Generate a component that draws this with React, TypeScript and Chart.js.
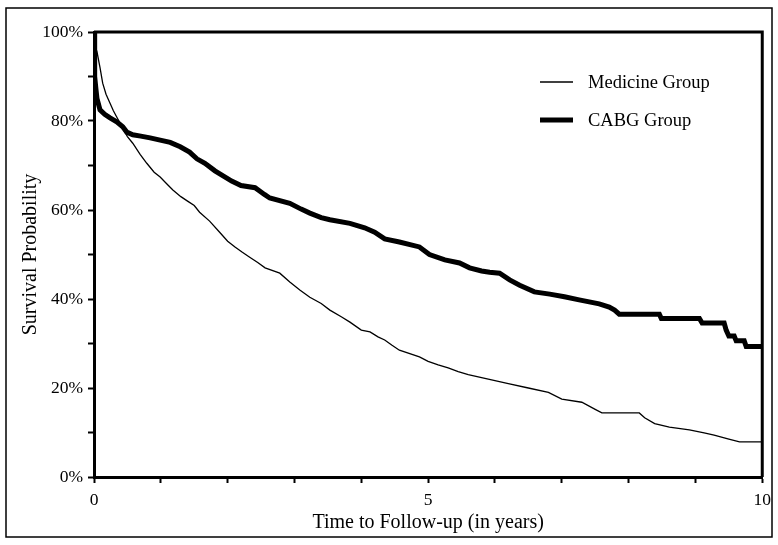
import React, { useEffect, useRef } from "react";
import { Chart, registerables } from "chart.js";

Chart.register(...registerables);

const seriesNames = ["Medicine Group", "CABG Group"];
const xTitle = "Time to Follow-up (in years)";
const yTitle = "Survival Probability";

const medicineT = [0, 0.015, 0.045, 0.09, 0.13, 0.18, 0.24, 0.29, 0.34, 0.43, 0.5, 0.58, 0.69, 0.79, 0.9, 0.99, 1.08, 1.18, 1.3, 1.4, 1.5, 1.58, 1.73, 1.88, 2.0, 2.11, 2.22, 2.33, 2.45, 2.56, 2.78, 2.93, 3.08, 3.23, 3.4, 3.53, 3.7, 3.83, 4.0, 4.13, 4.25, 4.35, 4.46, 4.57, 4.87, 5.0, 5.15, 5.3, 5.45, 5.6, 5.9, 6.2, 6.5, 6.8, 7.0, 7.3, 7.5, 7.6, 8.16, 8.24, 8.39, 8.61, 8.91, 9.13, 9.28, 9.5, 9.66, 10];
const medicineS = [100, 97, 95.5, 92, 88.5, 86, 84, 82.3, 80.9, 78.4, 76.5, 75, 72.5, 70.5, 68.5, 67.4, 66, 64.5, 63, 62, 61, 59.5, 57.5, 55, 53, 51.7, 50.5, 49.4, 48.2, 47, 45.8, 43.8, 42, 40.4, 39, 37.5, 36, 34.8, 33, 32.6, 31.5, 30.8, 29.6, 28.5, 27, 26, 25.2, 24.5, 23.7, 23, 22, 21, 20, 19, 17.5, 16.8, 15.2, 14.4, 14.4, 13.3, 12, 11.2, 10.6, 9.9, 9.4, 8.5, 7.9, 7.9];

const cabgT = [0, 0.01, 0.03, 0.045, 0.09, 0.16, 0.24, 0.34, 0.43, 0.49, 0.58, 0.7, 0.84, 0.99, 1.14, 1.29, 1.43, 1.54, 1.66, 1.81, 2.06, 2.2, 2.41, 2.55, 2.63, 2.93, 3.1, 3.23, 3.4, 3.53, 3.83, 4.05, 4.2, 4.35, 4.57, 4.87, 5.02, 5.25, 5.47, 5.62, 5.8, 5.92, 6.07, 6.22, 6.37, 6.59, 6.82, 7.04, 7.26, 7.56, 7.71, 7.79, 7.86, 8.46, 8.49, 9.06, 9.1, 9.43, 9.46, 9.5, 9.58, 9.61, 9.73, 9.76, 10];
const cabgS = [100, 90, 87, 85, 82.5, 81.5, 80.7, 79.8, 78.7, 77.5, 76.9, 76.6, 76.2, 75.7, 75.2, 74.2, 73, 71.5, 70.5, 68.8, 66.5, 65.5, 65, 63.5, 62.7, 61.5, 60.2, 59.3, 58.3, 57.8, 57, 56, 55, 53.5, 52.8, 51.7, 50, 48.8, 48.1, 47, 46.3, 46, 45.8, 44.3, 43.1, 41.6, 41.1, 40.5, 39.8, 38.9, 38.2, 37.5, 36.6, 36.6, 35.6, 35.6, 34.6, 34.6, 33, 31.7, 31.7, 30.6, 30.6, 29.3, 29.3];

const yTickValues = [0, 20, 40, 60, 80, 100];
const xTickValues = [0, 5, 10];

const FONT = "'Liberation Serif', 'Times New Roman', serif";

const toPoints = (t: number[], s: number[]) => t.map((x, i) => ({ x, y: s[i] }));

const decorPlugin = {
  id: "decor",
  beforeDraw(chart: any) {
    const ctx = chart.ctx;
    ctx.save();
    ctx.fillStyle = "#fff";
    ctx.fillRect(0, 0, chart.width, chart.height);
    ctx.strokeStyle = "#000";
    ctx.lineWidth = 1.5;
    ctx.strokeRect(6, 8, 766, 529);
    ctx.restore();
  },
  afterDraw(chart: any) {
    const ctx = chart.ctx;
    const a = chart.chartArea;
    ctx.save();
    ctx.strokeStyle = "#000";
    ctx.lineWidth = 3;
    ctx.beginPath();
    ctx.moveTo(a.left, a.top);
    ctx.lineTo(a.right, a.top);
    ctx.lineTo(a.right, a.bottom);
    ctx.stroke();

    // axis titles
    ctx.fillStyle = "#000";
    ctx.font = `20px ${FONT}`;
    ctx.textAlign = "center";
    ctx.textBaseline = "middle";
    ctx.fillText(xTitle, (a.left + a.right) / 2, 523);
    ctx.save();
    ctx.translate(31, (a.top + a.bottom) / 2);
    ctx.rotate(-Math.PI / 2);
    ctx.fillText(yTitle, 0, 0);
    ctx.restore();

    // legend
    ctx.font = `18.5px ${FONT}`;
    const ds = chart.data.datasets;
    const rows = [82, 120];
    ds.forEach((d: any, i: number) => {
      const y = rows[i];
      ctx.strokeStyle = "#000";
      ctx.lineWidth = d.borderWidth;
      ctx.beginPath();
      ctx.moveTo(540, y);
      ctx.lineTo(573, y);
      ctx.stroke();
      ctx.textAlign = "left";
      ctx.fillText(d.label, 588, y + 1);
    });
    ctx.restore();
  },
};

export default function App() {
  const ref = useRef<HTMLCanvasElement>(null);
  useEffect(() => {
    if (!ref.current) return;
    const chart = new Chart(ref.current, {
      type: "line",
      data: {
        datasets: [
          {
            label: seriesNames[0],
            data: toPoints(medicineT, medicineS),
            borderColor: "#000",
            borderWidth: 1.3,
            pointRadius: 0,
            tension: 0,
            fill: false,
          },
          {
            label: seriesNames[1],
            data: toPoints(cabgT, cabgS),
            borderColor: "#000",
            borderWidth: 5,
            pointRadius: 0,
            tension: 0,
            fill: false,
          },
        ],
      },
      options: {
        animation: false,
        responsive: true,
        maintainAspectRatio: false,
        layout: { padding: { left: 0, top: 32, right: 15, bottom: 0 } },
        plugins: { legend: { display: false }, tooltip: { enabled: false } },
        scales: {
          x: {
            type: "linear",
            min: 0,
            max: 10,
            afterFit: (s: any) => {
              s.height = 68;
            },
            border: { display: true, color: "#000", width: 3 },
            grid: {
              drawOnChartArea: false,
              drawTicks: true,
              tickLength: 6,
              tickWidth: 2,
              tickColor: "#000",
            },
            ticks: {
              stepSize: 1,
              autoSkip: false,
              maxRotation: 0,
              padding: 7,
              color: "#000",
              font: { family: FONT, size: 17.5 },
              callback: (v: any) => (xTickValues.includes(Number(v)) ? String(v) : ""),
            },
          },
          y: {
            type: "linear",
            min: 0,
            max: 100,
            afterFit: (s: any) => {
              s.width = 94;
            },
            border: { display: true, color: "#000", width: 3 },
            grid: {
              drawOnChartArea: false,
              drawTicks: true,
              tickLength: 6,
              tickWidth: 2,
              tickColor: "#000",
            },
            ticks: {
              stepSize: 10,
              autoSkip: false,
              padding: 5,
              color: "#000",
              font: { family: FONT, size: 17.5 },
              callback: (v: any) => (yTickValues.includes(Number(v)) ? `${v}%` : ""),
            },
          },
        },
      },
      plugins: [decorPlugin],
    });
    return () => chart.destroy();
  }, []);
  return (
    <div style={{ position: "absolute", left: 0, top: 0, width: 778, height: 545, background: "#fff" }}>
      <canvas ref={ref} />
    </div>
  );
}
